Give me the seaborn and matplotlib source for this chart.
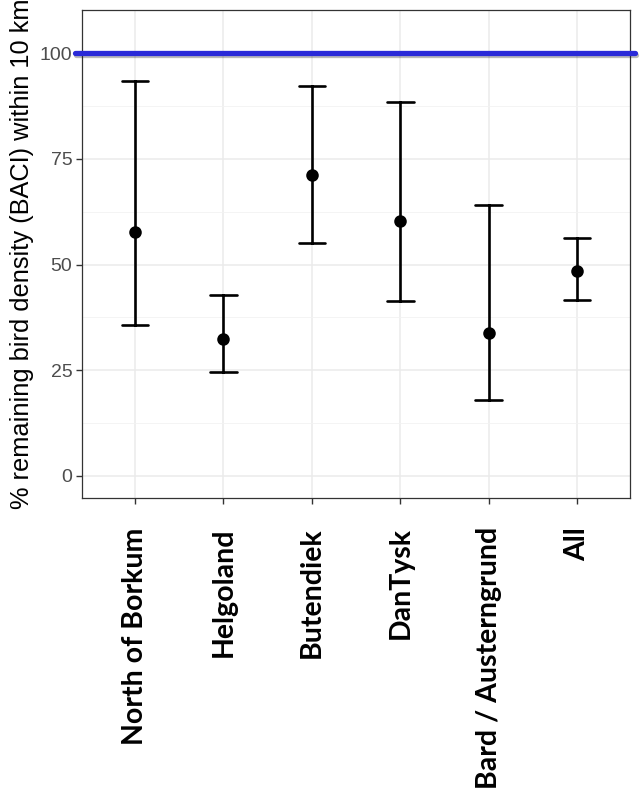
import numpy
import pandas
import seaborn as sns
import matplotlib.pyplot as plt
import matplotlib.patheffects as pe
from matplotlib.ticker import MultipleLocator


# Site estimates (% remaining density, BACI).
sites = ['North of Borkum', 'Helgoland', 'Butendiek', 'DanTysk', 'Bard / Austerngrund', 'All']
estimate = [57.7, 32.5, 71.2, 60.4, 33.9, 48.4]
lower = [35.8, 24.6, 55.0, 41.3, 18.0, 41.6]
upper = [93.5, 42.7, 92.3, 88.4, 64.0, 56.4]
reference_level = 100
y_ticks = [0, 25, 50, 75, 100]


def build_frame():
    # Long table: lower / estimate / upper per site, so the median is the estimate
    # and min / max span the interval.
    rows = []
    for site, lo, mid, hi in zip(sites, lower, estimate, upper):
        for v in (lo, mid, hi):
            rows.append({'site': site, 'value': v})
    return pandas.DataFrame(rows)


def plot_baci():
    df = build_frame()

    sns.set_theme(style = 'whitegrid')
    plt.rcParams['font.family'] = ['Liberation Sans', 'DejaVu Sans']

    fig = plt.figure(figsize = (6.41, 7.94), dpi = 100)
    ax = fig.add_axes([0.128, 0.3728, 0.855, 0.6146])

    sns.pointplot(
        data = df, x = 'site', y = 'value', order = sites,
        estimator = 'median',
        errorbar = lambda v: (v.min(), v.max()),
        color = 'black', linestyle = 'none', marker = 'o',
        markersize = 7, capsize = 0.3,
        err_kws = {'linewidth': 1.9},
        ax = ax
    )

    # Reference line at 100 %, with a soft shadow.
    ax.axhline(
        reference_level, xmin = -0.012, xmax = 1.009, clip_on = False,
        color = '#2a2ad8', linewidth = 3.8, zorder = 5,
        path_effects = [pe.SimpleLineShadow(offset = (0.5, -1.3), alpha = 0.3), pe.Normal()]
    )

    ax.set_xlim(-0.6, 5.6)
    ax.set_ylim(-5.25, 110.25)
    ax.set_yticks(y_ticks)
    ax.yaxis.set_minor_locator(MultipleLocator(12.5))

    # theme_bw look.
    ax.set_facecolor('white')
    ax.grid(True, which = 'major', color = '#ebebeb', linewidth = 1.1)
    ax.grid(True, which = 'minor', axis = 'y', color = '#f2f2f2', linewidth = 0.6)
    ax.set_axisbelow(True)
    for s in ax.spines.values():
        s.set_color('#333333')
        s.set_linewidth(0.9)

    ax.tick_params(axis = 'y', which = 'major', length = 4, width = 1, color = '#333333',
                   labelsize = 14, labelcolor = '#4d4d4d', pad = 3, left = True)
    ax.tick_params(axis = 'x', which = 'major', length = 4, width = 1, color = '#333333',
                   pad = 17, bottom = True)
    ax.tick_params(which = 'minor', length = 0)

    ax.set_xticks(range(len(sites)))
    ax.set_xticklabels(sites, rotation = 90, fontsize = 20.5, fontweight = 'bold',
                       family = ['Lato', 'DejaVu Sans'], color = 'black')

    ax.set_xlabel(None)
    ax.set_ylabel('% remaining bird density (BACI) within 10 km', fontsize = 18.3,
                  color = 'black', labelpad = 4)

    fig.savefig('out.png', dpi = 100)
    return


plot_baci()
